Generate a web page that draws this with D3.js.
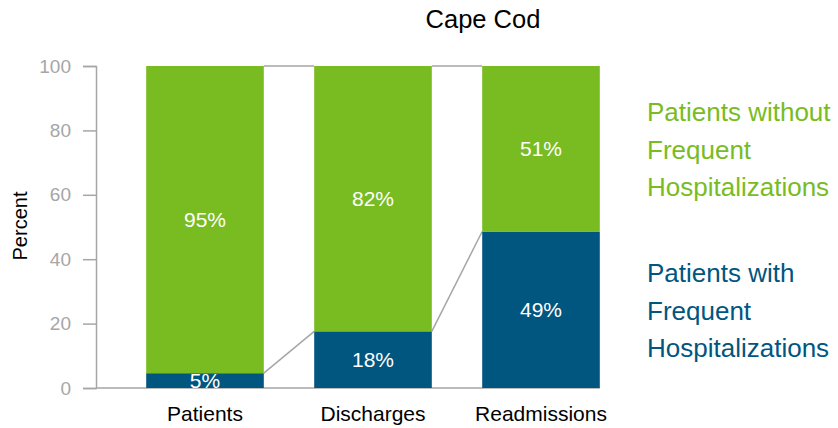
<!DOCTYPE html>
<html><head><meta charset="utf-8">
<script src="https://cdn.jsdelivr.net/npm/d3@7"></script>
<style>body{margin:0;background:#fff}svg{display:block;font-family:"Liberation Sans",Arial,sans-serif}</style>
</head><body><svg id="c" width="838" height="428"></svg>
<script>
const categories = ["Patients", "Discharges", "Readmissions"];
const withFrequent = [4.6, 17.6, 48.6];
const withoutFrequent = [95.4, 82.4, 51.4];
const yTicks = [0, 20, 40, 60, 80, 100];
const title = "Cape Cod";
const legendWithout = ["Patients without", "Frequent", "Hospitalizations"];
const legendWith = ["Patients with", "Frequent", "Hospitalizations"];

const green = "#78bc22", blue = "#00567f", grey = "#a6a6a6";
const svg = d3.select("#c");
const x = d3.scaleBand().domain(categories).range([121, 625]).paddingInner(0.3).paddingOuter(0.15);
const y = d3.scaleLinear().domain([0, 100]).range([388, 66]);

// title
svg.append("text").attr("x", 483).attr("y", 28).attr("text-anchor", "middle")
  .attr("font-size", 25.5).attr("fill", "#000").text(title);

// y axis
const ya = svg.append("g").attr("transform", "translate(96,0)")
  .call(d3.axisLeft(y).tickValues(yTicks).tickSize(13).tickPadding(12));
ya.select(".domain").attr("stroke", grey).attr("stroke-width", 1.5);
ya.selectAll(".tick line").attr("stroke", grey).attr("stroke-width", 1.5);
ya.selectAll(".tick text").attr("fill", grey).attr("font-size", 19).attr("font-family", "Liberation Sans, Arial, sans-serif");

svg.append("text").attr("transform", "translate(27,226) rotate(-90)").attr("text-anchor", "middle")
  .attr("font-size", 20).attr("fill", "#000").text("Percent");

// series lines
const lineG = svg.append("g").attr("stroke", grey).attr("stroke-width", 1.5).attr("fill", "none");
for (let i = 0; i < categories.length - 1; i++) {
  const x0 = x(categories[i]) + x.bandwidth(), x1 = x(categories[i + 1]);
  lineG.append("line").attr("x1", x0).attr("x2", x1).attr("y1", y(100)).attr("y2", y(100));
  lineG.append("line").attr("x1", x0).attr("x2", x1).attr("y1", y(withFrequent[i])).attr("y2", y(withFrequent[i + 1]));
}
// baseline
svg.append("line").attr("x1", 96).attr("x2", x(categories[2]) + x.bandwidth())
  .attr("y1", y(0)).attr("y2", y(0)).attr("stroke", grey).attr("stroke-width", 1.5);

// bars
const fmt = v => Math.round(v) + "%";
categories.forEach((c, i) => {
  const b = withFrequent[i], g = withoutFrequent[i];
  svg.append("rect").attr("x", x(c)).attr("width", x.bandwidth())
    .attr("y", y(b)).attr("height", y(0) - y(b)).attr("fill", blue);
  svg.append("rect").attr("x", x(c)).attr("width", x.bandwidth())
    .attr("y", y(b + g)).attr("height", y(b) - y(b + g)).attr("fill", green);
  const cx = x(c) + x.bandwidth() / 2;
  svg.append("text").attr("x", cx).attr("y", y(b / 2)).attr("dy", "0.36em").attr("text-anchor", "middle")
    .attr("font-size", 21).attr("fill", "#fff").text(fmt(b));
  svg.append("text").attr("x", cx).attr("y", y(b + g / 2)).attr("dy", "0.36em").attr("text-anchor", "middle")
    .attr("font-size", 21).attr("fill", "#fff").text(fmt(g));
  svg.append("text").attr("x", cx).attr("y", 421).attr("text-anchor", "middle")
    .attr("font-size", 21).attr("fill", "#000").text(c);
});

// legend
legendWithout.forEach((t, i) => svg.append("text").attr("x", 647).attr("y", 121 + i * 37.5)
  .attr("font-size", 26).attr("fill", green).text(t));
legendWith.forEach((t, i) => svg.append("text").attr("x", 647).attr("y", 282 + i * 37.5)
  .attr("font-size", 26).attr("fill", blue).text(t));
</script></body></html>
